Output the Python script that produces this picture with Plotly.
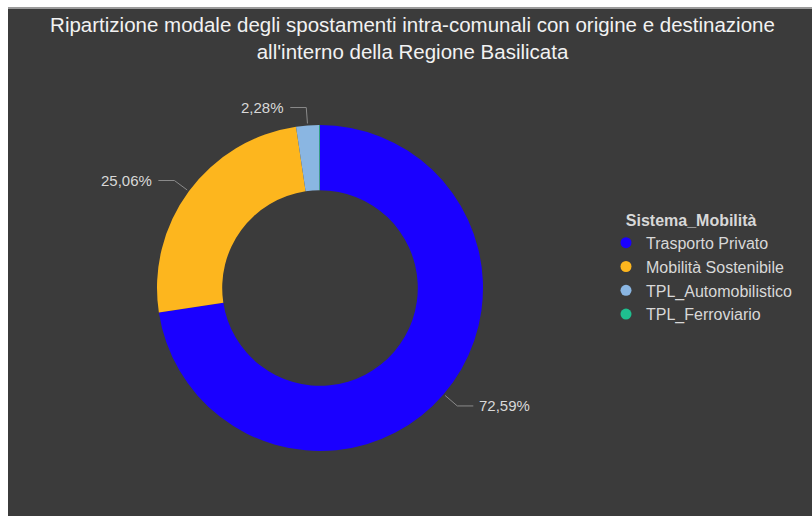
import math
import plotly.graph_objects as go

# Modal split data
categories = ["Trasporto Privato", "Mobilità Sostenibile", "TPL_Automobilistico", "TPL_Ferroviario"]
values = [72.59, 25.06, 2.28, 0.07]
colors = ["#1a00ff", "#fdb61e", "#8ab6e2", "#1fbf8f"]
show_label = [True, True, True, False]

W, H = 812, 516
BG = "#3b3b3b"
TXT = "#d8d8d8"

# donut geometry in pixels
cx, cy, R = 320, 288, 163


def px(x):
    return x / W


def py(y):
    return 1 - y / H


fig = go.Figure()

fig.add_trace(go.Pie(
    labels=categories,
    values=values,
    marker=dict(colors=colors, line=dict(width=0)),
    hole=0.6,
    sort=False,
    direction="clockwise",
    rotation=0,
    textinfo="none",
    showlegend=False,
    domain=dict(x=[px(cx - R), px(cx + R)], y=[py(cy + R), py(cy - R)]),
))

# legend entries with round markers
for name, col in zip(categories, colors):
    fig.add_trace(go.Scatter(
        x=[None], y=[None], mode="markers", name=name,
        marker=dict(symbol="circle", size=11, color=col),
    ))

# outside percentage labels with elbow leader lines
total = sum(values)
shapes = []
annotations = []
cum = 0.0
for v, show in zip(values, show_label):
    mid = cum + v / 2
    cum += v
    if not show:
        continue
    ang = math.radians(90 - 360 * mid / total)
    ca, sa = math.cos(ang), math.sin(ang)
    x0, y0 = cx + (R + 2) * ca, cy - (R + 2) * sa
    x1, y1 = cx + (R + 18) * ca, cy - (R + 18) * sa
    side = 1 if ca >= 0 else -1
    x2 = x1 + side * 16
    shapes.append(dict(
        type="path", xref="paper", yref="paper",
        path=f"M {px(x0)},{py(y0)} L {px(x1)},{py(y1)} L {px(x2)},{py(y1)}",
        line=dict(color="#8a8a8a", width=1),
    ))
    label = f"{v / total * 100:.2f}%".replace(".", ",")
    annotations.append(dict(
        x=px(x2 + side * 4), y=py(y1), xref="paper", yref="paper",
        text=label, showarrow=False,
        xanchor="left" if side > 0 else "right", yanchor="middle",
        font=dict(size=15, color=TXT),
    ))

# dark panel with a thin light edge at the top
shapes.insert(0, dict(type="rect", xref="paper", yref="paper", layer="below",
                      x0=px(8), x1=1, y0=0, y1=py(9),
                      fillcolor=BG, line=dict(width=0)))
shapes.insert(1, dict(type="line", xref="paper", yref="paper", layer="below",
                      x0=px(8), x1=1, y0=py(8), y1=py(8),
                      line=dict(color="#9a9a9a", width=2)))

fig.update_layout(
    width=W, height=H,
    margin=dict(l=0, r=0, t=0, b=0),
    paper_bgcolor="white",
    plot_bgcolor="rgba(0,0,0,0)",
    font=dict(family="Arial, Liberation Sans, sans-serif", color=TXT),
    title=dict(
        text="Ripartizione modale degli spostamenti intra-comunali con origine e destinazione<br>all'interno della Regione Basilicata",
        x=0.508, xanchor="center", y=py(32), yanchor="middle",
        font=dict(size=20.5, color="#f2f2f2"),
    ),
    xaxis=dict(visible=False),
    yaxis=dict(visible=False),
    legend=dict(
        title=dict(text="&nbsp;&nbsp;&nbsp;&nbsp;<b>Sistema_Mobilità</b>",
                   font=dict(size=16, color=TXT)),
        x=px(606), xanchor="left", y=py(205), yanchor="top",
        font=dict(size=16, color=TXT),
        bgcolor="rgba(0,0,0,0)",
        itemwidth=30,
    ),
    shapes=shapes,
    annotations=annotations,
    separators=",.",
)

fig.write_html("out.html")
